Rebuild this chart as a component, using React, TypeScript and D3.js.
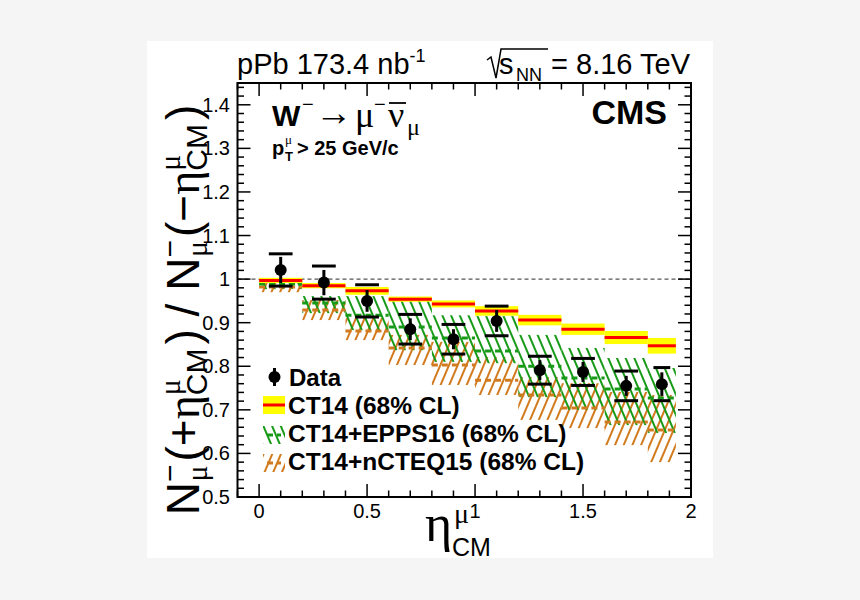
import React from "react";
import * as d3 from "d3";

// ---------------- data ----------------
const binEdges = [0, 0.2, 0.4, 0.6, 0.8, 1.0, 1.2, 1.4, 1.6, 1.8, 1.93];
const etaCenters = [0.1, 0.3, 0.5, 0.7, 0.9, 1.1, 1.3, 1.5, 1.7, 1.865];
const dataRatio = [1.021, 0.992, 0.95, 0.885, 0.862, 0.904, 0.791, 0.787, 0.755, 0.759];
const dataStat = [0.03, 0.029, 0.025, 0.025, 0.023, 0.025, 0.023, 0.023, 0.023, 0.027];
const dataSyst = [0.037, 0.038, 0.037, 0.034, 0.034, 0.034, 0.032, 0.031, 0.034, 0.038];

const ct14Central = [0.997, 0.985, 0.973, 0.954, 0.943, 0.927, 0.906, 0.885, 0.866, 0.847];
const ct14Err = [0.006, 0.006, 0.009, 0.006, 0.008, 0.011, 0.012, 0.013, 0.015, 0.018];

const eppsCentral = [0.989, 0.945, 0.917, 0.89, 0.865, 0.835, 0.8, 0.773, 0.748, 0.727];
const eppsHigh = [0.995, 0.961, 0.961, 0.952, 0.917, 0.915, 0.872, 0.842, 0.819, 0.796];
const eppsLow = [0.977, 0.922, 0.883, 0.837, 0.81, 0.807, 0.729, 0.7, 0.665, 0.647];

const ncteqCentral = [0.982, 0.929, 0.881, 0.842, 0.803, 0.768, 0.734, 0.704, 0.672, 0.654];
const ncteqHigh = [0.991, 0.952, 0.911, 0.872, 0.856, 0.821, 0.775, 0.761, 0.741, 0.734];
const ncteqLow = [0.97, 0.906, 0.86, 0.803, 0.757, 0.734, 0.677, 0.658, 0.619, 0.58];

const yTickValues = [0.5, 0.6, 0.7, 0.8, 0.9, 1.0, 1.1, 1.2, 1.3, 1.4];
const yTickLabels = ["0.5", "0.6", "0.7", "0.8", "0.9", "1", "1.1", "1.2", "1.3", "1.4"];
const xTickValues = [0, 0.5, 1, 1.5, 2];
const xTickLabels = ["0", "0.5", "1", "1.5", "2"];

const legendLabels = ["Data", "CT14 (68% CL)", "CT14+EPPS16 (68% CL)", "CT14+nCTEQ15 (68% CL)"];

// ---------------- styles ----------------
const SANS = "'Liberation Sans', Arial, Helvetica, sans-serif";
const SERIF = "'Liberation Serif', 'DejaVu Serif', serif";
const GREEN = "#179a17";
const ORANGE = "#d27a1e";

const L = 237.5, R = 691, T = 83, B = 497;

export default function App() {
  const x = d3.scaleLinear().domain([-0.1, 2]).range([L, R]);
  const y = d3.scaleLinear().domain([0.5, 1.45]).range([B, T]);

  const yMinor = d3.range(0.5, 1.4501, 0.02);
  const xMinor = d3.range(-0.1, 2.0001, 0.1);
  const MAJ = 13, MIN = 6.5;

  const bins = etaCenters.map((c, i) => ({
    x0: binEdges[i],
    x1: binEdges[i + 1],
    c,
    i,
  }));

  const supSub = (sup: string, supFont: string, sub: string, subFont: string, back: number) => [
    <tspan key="a" fontSize={30} fontFamily={supFont} dy={-19}>{sup}</tspan>,
    <tspan key="b" fontSize={30} fontFamily={subFont} dx={-back} dy={27}>{sub}</tspan>,
  ];

  return (
    <svg width={860} height={600} style={{ position: "absolute", left: 0, top: 0 }}>
      <defs>
        <pattern id="hatchGreen" patternUnits="userSpaceOnUse" width={8} height={20} patternTransform="rotate(-23)">
          <line x1={4} y1={0} x2={4} y2={20} stroke={GREEN} strokeWidth={2} />
        </pattern>
        <pattern id="hatchOrange" patternUnits="userSpaceOnUse" width={8} height={20} patternTransform="rotate(23)">
          <line x1={4} y1={0} x2={4} y2={20} stroke={ORANGE} strokeWidth={2} />
        </pattern>
        <clipPath id="frameClip">
          <rect x={L} y={T} width={R - L} height={B - T} />
        </clipPath>
      </defs>
      <rect x={0} y={0} width={860} height={600} fill="#f5f5f5" />
      <rect x={147} y={41} width={566} height={517} fill="#ffffff" />

      {/* reference line at 1 */}
      <line x1={L} x2={R} y1={y(1)} y2={y(1)} stroke="#555" strokeWidth={1.2} strokeDasharray="4,3" />

      <g clipPath="url(#frameClip)">
        {bins.map((b) => (
          <rect key={"nb" + b.i} x={x(b.x0)} width={x(b.x1) - x(b.x0)} y={y(ncteqHigh[b.i])}
            height={y(ncteqLow[b.i]) - y(ncteqHigh[b.i])} fill="url(#hatchOrange)" />
        ))}
        {bins.map((b) => (
          <rect key={"eb" + b.i} x={x(b.x0)} width={x(b.x1) - x(b.x0)} y={y(eppsHigh[b.i])}
            height={y(eppsLow[b.i]) - y(eppsHigh[b.i])} fill="url(#hatchGreen)" />
        ))}
        {bins.map((b) => (
          <line key={"nc" + b.i} x1={x(b.x0)} x2={x(b.x1)} y1={y(ncteqCentral[b.i])} y2={y(ncteqCentral[b.i])}
            stroke={ORANGE} strokeWidth={3} strokeDasharray="6,4" />
        ))}
        {bins.map((b) => (
          <line key={"ec" + b.i} x1={x(b.x0)} x2={x(b.x1)} y1={y(eppsCentral[b.i])} y2={y(eppsCentral[b.i])}
            stroke={GREEN} strokeWidth={3} strokeDasharray="6,4" />
        ))}
        {bins.map((b) => (
          <rect key={"cb" + b.i} x={x(b.x0)} width={x(b.x1) - x(b.x0)} y={y(ct14Central[b.i] + ct14Err[b.i])}
            height={y(ct14Central[b.i] - ct14Err[b.i]) - y(ct14Central[b.i] + ct14Err[b.i])} fill="#ffff00" />
        ))}
        {bins.map((b) => (
          <line key={"cc" + b.i} x1={x(b.x0)} x2={x(b.x1)} y1={y(ct14Central[b.i])} y2={y(ct14Central[b.i])}
            stroke="#ff0000" strokeWidth={3} />
        ))}
      </g>

      {/* data */}
      {bins.map((b) => {
        const capHalf = Math.min(0.055, (b.x1 - b.x0) * 0.3);
        return (
          <g key={"d" + b.i}>
            <line x1={x(b.c)} x2={x(b.c)} y1={y(dataRatio[b.i] + dataStat[b.i])} y2={y(dataRatio[b.i] - dataStat[b.i])}
              stroke="#000" strokeWidth={3} />
            <line x1={x(b.c - capHalf)} x2={x(b.c + capHalf)} y1={y(dataRatio[b.i] + dataSyst[b.i])} y2={y(dataRatio[b.i] + dataSyst[b.i])}
              stroke="#000" strokeWidth={3} />
            <line x1={x(b.c - capHalf)} x2={x(b.c + capHalf)} y1={y(dataRatio[b.i] - dataSyst[b.i])} y2={y(dataRatio[b.i] - dataSyst[b.i])}
              stroke="#000" strokeWidth={3} />
            <circle cx={x(b.c)} cy={y(dataRatio[b.i])} r={6} fill="#000" />
          </g>
        );
      })}

      {/* frame */}
      <rect x={L} y={T} width={R - L} height={B - T} fill="none" stroke="#000" strokeWidth={2} />

      {/* ticks */}
      {yMinor.map((v, i) => {
        const major = yTickValues.some((t) => Math.abs(t - v) < 1e-6);
        const len = major ? MAJ : MIN;
        return (
          <g key={"yt" + i}>
            <line x1={L} x2={L + len} y1={y(v)} y2={y(v)} stroke="#000" strokeWidth={1.5} />
            <line x1={R} x2={R - len} y1={y(v)} y2={y(v)} stroke="#000" strokeWidth={1.5} />
          </g>
        );
      })}
      {xMinor.map((v, i) => {
        const major = xTickValues.some((t) => Math.abs(t - v) < 1e-6);
        const len = major ? MAJ : MIN;
        return (
          <g key={"xt" + i}>
            <line x1={x(v)} x2={x(v)} y1={B} y2={B - len} stroke="#000" strokeWidth={1.5} />
            <line x1={x(v)} x2={x(v)} y1={T} y2={T + len} stroke="#000" strokeWidth={1.5} />
          </g>
        );
      })}
      {yTickValues.map((v, i) => (
        <text key={"yl" + i} x={230} y={y(v) + 7} textAnchor="end" fontFamily={SANS} fontSize={20}>{yTickLabels[i]}</text>
      ))}
      {xTickValues.map((v, i) => (
        <text key={"xl" + i} x={x(v)} y={518} textAnchor="middle" fontFamily={SANS} fontSize={20}>{xTickLabels[i]}</text>
      ))}

      {/* x axis title */}
      <text x={425} y={541} fontFamily={SERIF} fontSize={52}>η</text>
      <text x={454} y={523} fontFamily={SERIF} fontSize={28}>μ</text>
      <text x={452} y={556} fontFamily={SANS} fontSize={25}>CM</text>

      {/* y axis title */}
      <g transform="translate(199,310) rotate(-90)">
        <text x={0} y={0} textAnchor="middle" fontFamily={SANS} fontSize={46}>
          <tspan>N</tspan>
          {supSub("−", SANS, "μ", SERIF, 17)}
          <tspan dx={4} dy={-8}>(+</tspan>
          <tspan fontFamily={SERIF}>η</tspan>
          {supSub("μ", SERIF, "CM", SANS, 16)}
          <tspan dx={4} dy={-8}>) / N</tspan>
          {supSub("−", SANS, "μ", SERIF, 17)}
          <tspan dx={4} dy={-8}>(−</tspan>
          <tspan fontFamily={SERIF}>η</tspan>
          {supSub("μ", SERIF, "CM", SANS, 16)}
          <tspan dx={4} dy={-8}>)</tspan>
        </text>
      </g>

      {/* top texts */}
      <text x={237} y={74} fontFamily={SANS} fontSize={29}>
        pPb 173.4 nb<tspan fontSize={18} dy={-12}>-1</tspan>
      </text>
      <path d="M487,60 L491,57 L496,78 L501,49 L548,49" fill="none" stroke="#000" strokeWidth={1.5} />
      <text x={499} y={74} fontFamily={SANS} fontSize={29}>s</text>
      <text x={516} y={81} fontFamily={SANS} fontSize={18}>NN</text>
      <text x={690} y={74} textAnchor="end" fontFamily={SANS} fontSize={29}>= 8.16 TeV</text>

      {/* in-plot annotations */}
      <text x={272} y={126} fontFamily={SANS} fontWeight="bold" fontSize={30}>W</text>
      <text x={302} y={111} fontFamily={SANS} fontSize={20}>−</text>
      <text x={315} y={125} fontFamily={SERIF} fontSize={37}>→</text>
      <text x={355} y={127} fontFamily={SERIF} fontSize={36}>μ</text>
      <text x={374} y={111} fontFamily={SANS} fontSize={20}>−</text>
      <text x={388} y={127} fontFamily={SERIF} fontSize={36}>ν</text>
      <line x1={389} x2={406} y1={103} y2={103} stroke="#000" strokeWidth={1.8} />
      <text x={407} y={135} fontFamily={SERIF} fontSize={24}>μ</text>

      <text x={272} y={155} fontFamily={SANS} fontWeight="bold" fontSize={20}>p</text>
      <text x={285} y={144} fontFamily={SERIF} fontSize={13}>μ</text>
      <text x={285} y={161} fontFamily={SANS} fontWeight="bold" fontSize={13}>T</text>
      <text x={297} y={155} fontFamily={SANS} fontWeight="bold" fontSize={20}>&gt; 25 GeV/c</text>

      <text x={667} y={124} textAnchor="end" fontFamily={SANS} fontWeight="bold" fontSize={34}>CMS</text>

      {/* legend */}
      <g>
        <line x1={274.5} x2={274.5} y1={368} y2={386} stroke="#000" strokeWidth={3} />
        <circle cx={274.5} cy={377} r={6} fill="#000" />
        <text x={289} y={386} fontFamily={SANS} fontWeight="bold" fontSize={24}>{legendLabels[0]}</text>

        <rect x={263} y={396} width={22} height={18} fill="#ffff00" />
        <line x1={263} x2={285} y1={405} y2={405} stroke="#ff0000" strokeWidth={3} />
        <text x={288} y={414} fontFamily={SANS} fontWeight="bold" fontSize={24.5}>{legendLabels[1]}</text>

        <rect x={263} y={426} width={22} height={18} fill="url(#hatchGreen)" />
        <line x1={267} x2={281} y1={435} y2={435} stroke={GREEN} strokeWidth={3} strokeDasharray="6,4" />
        <text x={288} y={442} fontFamily={SANS} fontWeight="bold" fontSize={24.5}>{legendLabels[2]}</text>

        <rect x={263} y={454} width={22} height={18} fill="url(#hatchOrange)" />
        <line x1={267} x2={281} y1={463} y2={463} stroke={ORANGE} strokeWidth={3} strokeDasharray="6,4" />
        <text x={288} y={470} fontFamily={SANS} fontWeight="bold" fontSize={24.5}>{legendLabels[3]}</text>
      </g>
    </svg>
  );
}
